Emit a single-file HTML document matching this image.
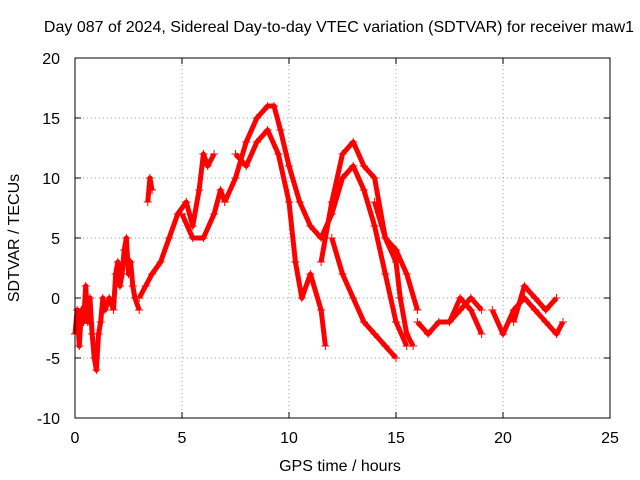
<!DOCTYPE html>
<html><head><meta charset="utf-8"><style>
body{margin:0;background:#fff;}
svg{display:block;font-family:"Liberation Sans",sans-serif;}
</style></head><body>
<svg id="chart" width="640" height="480">
<text x="339" y="32" font-size="16" text-anchor="middle">Day 087 of 2024, Sidereal Day-to-day VTEC variation (SDTVAR) for receiver maw1</text>
<text x="340" y="471" font-size="16" text-anchor="middle">GPS time / hours</text>
<text transform="translate(19,238) rotate(-90)" font-size="16" text-anchor="middle">SDTVAR / TECUs</text>
<g id="grid"></g><g id="data"></g>
<rect x="75" y="58" width="535" height="360" fill="none" stroke="#000"/>
<g id="ticks"></g>
</svg>
<script>
const xTicks=[0,5,10,15,20,25];
const yTicks=[-10,-5,0,5,10,15,20];
const t1=[[0,-3],[0.1,-1],[0.2,-4],[0.3,-1],[0.4,-2],[0.5,1],[0.6,-2],[0.7,0],[0.8,-3],[0.9,-5],[1.0,-6],[1.1,-3],[1.2,-2],[1.3,0],[1.4,-1],[1.6,0],[1.8,-1]];
const t2=[[1.8,-1],[1.9,2],[2.0,3],[2.1,1],[2.2,2],[2.3,4],[2.4,5],[2.5,2],[2.6,3],[2.7,1],[2.8,0],[3.0,-1]];
const t3=[[3.0,0],[3.3,1],[3.6,2],[4.0,3],[4.4,5],[4.8,7],[5.2,8],[5.5,6],[5.8,9],[6.0,12],[6.2,11],[6.5,12]];
const t3b=[[3.4,8],[3.5,10],[3.6,9]];
const t4=[[5.0,7],[5.5,5],[6.0,5],[6.5,7],[6.8,9],[7.0,8]];
const t5=[[7.0,8],[7.5,10],[8.0,13],[8.5,15],[9.0,16],[9.3,16],[9.6,14],[10.0,11],[10.5,8],[11,6],[11.5,5],[12,7],[12.5,10],[13,11],[13.5,9],[14,6],[14.5,2],[15,-2],[15.5,-4]];
const t6=[[7.5,12],[8.0,11],[8.5,13],[9.0,14],[9.5,12],[10,8],[10.3,3],[10.6,0],[11,2],[11.5,-1],[11.7,-4]];
const t7=[[11.5,3],[12,8],[12.5,12],[13,13],[13.5,11],[14,10],[14.5,5],[15,3],[15.2,0],[15.5,-3],[15.8,-4]];
const t8=[[12,5],[12.5,2],[13,0],[13.5,-2],[14,-3],[14.5,-4],[15,-5]];
const t9=[[14,8],[14.5,5],[15,4],[15.5,2],[16,-1]];
const t10=[[16,-2],[16.5,-3],[17,-2],[17.5,-2],[18,0],[18.5,-1],[19,-3]];
const t11=[[17.5,-2],[18,-1],[18.5,0],[19,-1]];
const t12=[[19.5,-1],[20,-3],[20.5,-1],[21,0],[21.5,-1],[22,-2],[22.5,-3],[22.8,-2]];
const t13=[[20.5,-2],[21,1],[21.5,0],[22,-1],[22.5,0]];
const tracks=[t1,t2,t3,t3b,t4,t5,t6,t7,t8,t9,t10,t11,t12,t13];

const NS="http://www.w3.org/2000/svg";
const X0=75,X1=610,Y0=418,Y1=58;
function xs(v){return X0+(v-0)/(25-0)*(X1-X0);}
function ys(v){return Y0-(v+10)/(30)*(Y0-Y1);}
function mk(tag,attrs,parent){const e=document.createElementNS(NS,tag);for(const k in attrs)e.setAttribute(k,attrs[k]);parent.appendChild(e);return e;}
const grid=document.getElementById('grid'),ticks=document.getElementById('ticks'),data=document.getElementById('data');
xTicks.forEach(v=>{
  const x=xs(v);
  if(v>0&&v<25){const g=mk('line',{x1:x,x2:x,y1:Y0,y2:Y1,stroke:'#a0a0a0','stroke-dasharray':'1,3'},grid);
  
  }
  mk('line',{x1:x,x2:x,y1:Y0,y2:Y0-6,stroke:'#000'},ticks);
  mk('line',{x1:x,x2:x,y1:Y1,y2:Y1+6,stroke:'#000'},ticks);
  const t=mk('text',{x:x,y:Y0+25,'font-size':16,'text-anchor':'middle'},ticks);t.textContent=v;
  
  
});
yTicks.forEach(v=>{
  const y=ys(v);
  if(v>-10&&v<20){const g=mk('line',{x1:X0,x2:X1,y1:y,y2:y,stroke:'#a0a0a0','stroke-dasharray':'1,3'},grid);
  
  }
  mk('line',{x1:X0,x2:X0+6,y1:y,y2:y,stroke:'#000'},ticks);
  mk('line',{x1:X1,x2:X1-6,y1:y,y2:y,stroke:'#000'},ticks);
  const t=mk('text',{x:X0-15,y:y+6,'font-size':16,'text-anchor':'end'},ticks);t.textContent=v;
  
  
});
tracks.forEach(tr=>{
  const p=mk('polyline',{points:tr.map(d=>xs(d[0])+','+ys(d[1])).join(' '),fill:'none',stroke:'#f00','stroke-width':5,'stroke-linejoin':'round'},data);
  
  
  tr.forEach(d=>{
    const x=xs(d[0]),y=ys(d[1]);
    const m=mk('path',{d:`M${x-4},${y}H${x+4}M${x},${y-4}V${y+4}`,stroke:'#f00','stroke-width':1},data);
    
    
  });
});
</script>
</body></html>
